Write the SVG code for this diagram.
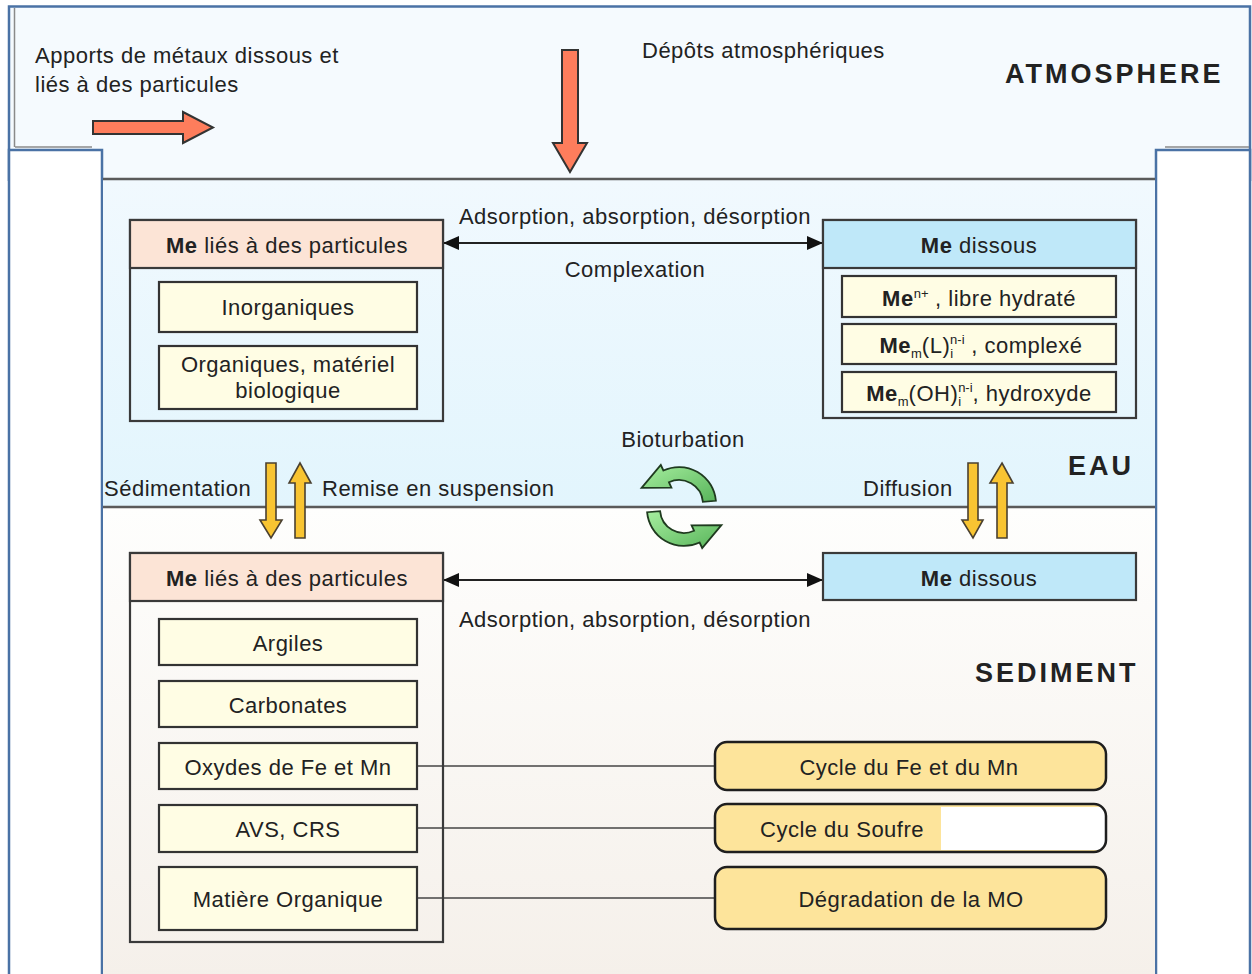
<svg xmlns="http://www.w3.org/2000/svg" width="1252" height="974" viewBox="0 0 1252 974">
<style>
text{font-family:"Liberation Sans",Arial,sans-serif;fill:#222;font-size:22px;letter-spacing:0.5px}
.b{font-weight:bold}
.zone{font-size:27px;font-weight:bold;letter-spacing:3px}
.sub{font-size:13px;letter-spacing:0}
.frame{fill:#fff;stroke:#4a72a5;stroke-width:2.5}
.sep{stroke:#5a5a5a;stroke-width:2.5}
.outer{fill:none;stroke:#3a3a3a;stroke-width:2.2}
.hp{fill:#fce4d6;stroke:#3a3a3a;stroke-width:2.2}
.hb{fill:#bfe8f9;stroke:#3a3a3a;stroke-width:2.2}
.inner{fill:#fffde4;stroke:#333;stroke-width:2.2}
.cyc{fill:#fde49b;stroke:#1e1e1e;stroke-width:2.5}
.red{fill:#fe7d5c;stroke:#333;stroke-width:2}
.yel{fill:#f8c432;stroke:#4a4030;stroke-width:1.6}
.grn{fill:url(#grn);stroke:#1f3a1f;stroke-width:1.8}
.conn{stroke:#444;stroke-width:1.6;fill:none}
.bi{stroke:#222;stroke-width:2;fill:none;marker-start:url(#ah);marker-end:url(#ah)}
</style>
<defs>
<linearGradient id="water" x1="0" y1="0" x2="0" y2="1"><stop offset="0" stop-color="#f1f9fe"/><stop offset="1" stop-color="#e2f5fd"/></linearGradient>
<linearGradient id="sed" x1="0" y1="0" x2="0" y2="1"><stop offset="0" stop-color="#fefefd"/><stop offset="1" stop-color="#f5f0ea"/></linearGradient>
<linearGradient id="grn" x1="0" y1="0" x2="1" y2="1"><stop offset="0" stop-color="#a6ee9f"/><stop offset="1" stop-color="#58b45a"/></linearGradient>
<marker id="ah" viewBox="0 0 16 14" refX="16" refY="7" markerWidth="16" markerHeight="14" markerUnits="userSpaceOnUse" orient="auto-start-reverse"><path d="M0,0 L16,7 L0,14 Z" fill="#111"/></marker>
<clipPath id="clipS"><rect x="715" y="804" width="391" height="48" rx="12"/></clipPath>
</defs>

<g id="background">
<rect x="9" y="6" width="1241" height="175" fill="#f5fafe"/>
<path d="M9,181 V6.5 H1250 V181" fill="none" stroke="#4a72a5" stroke-width="2.5"/>
<line x1="14.5" y1="8" x2="14.5" y2="147" stroke="#8a8a8a" stroke-width="1.5"/>
<line x1="15" y1="147" x2="92" y2="147" stroke="#8a8a8a" stroke-width="1.5"/>
<line x1="1165" y1="147" x2="1249" y2="147" stroke="#8a8a8a" stroke-width="1.5"/>
<rect class="frame" x="9" y="150" width="93" height="830"/>
<rect class="frame" x="1156" y="150" width="94" height="830"/>
<rect x="103" y="180" width="1052" height="327" fill="url(#water)"/>
<rect x="103" y="507" width="1052" height="470" fill="url(#sed)"/>
<line class="sep" x1="103" y1="179" x2="1155" y2="179"/>
<line class="sep" x1="103" y1="507" x2="1155" y2="507"/>
</g>

<g id="labels">
<text x="35" y="63">Apports de métaux dissous et</text>
<text x="35" y="92">liés à des particules</text>
<text x="642" y="58">Dépôts atmosphériques</text>
<text class="zone" x="1005" y="83">ATMOSPHERE</text>
<text class="zone" x="1068" y="475">EAU</text>
<text class="zone" x="975" y="682">SEDIMENT</text>
<text x="683" y="447" text-anchor="middle">Bioturbation</text>
<text x="104" y="496">Sédimentation</text>
<text x="322" y="496">Remise en suspension</text>
<text x="863" y="496">Diffusion</text>
</g>

<g id="connectors">
<line class="bi" x1="443" y1="243" x2="823" y2="243"/>
<text x="635" y="224" text-anchor="middle">Adsorption, absorption, désorption</text>
<text x="635" y="277" text-anchor="middle">Complexation</text>
<line class="bi" x1="443" y1="580" x2="823" y2="580"/>
<text x="635" y="627" text-anchor="middle">Adsorption, absorption, désorption</text>
<line class="conn" x1="417" y1="766" x2="715" y2="766"/>
<line class="conn" x1="417" y1="828" x2="715" y2="828"/>
<line class="conn" x1="417" y1="898" x2="715" y2="898"/>
<polygon class="red" points="93,121 183,121 183,112 213,127.5 183,143 183,134 93,134"/>
<polygon class="red" points="562,50 578,50 578,143 587,143 570,172 553,143 562,143"/>
<polygon class="yel" points="266,463 276,463 276,520 282,520 271,538 260,520 266,520"/>
<polygon class="yel" points="300,463 311,483 305,483 305,538 295,538 295,483 289,483"/>
<polygon class="yel" points="968,463 978,463 978,520 983,520 973,538 962,520 968,520"/>
<polygon class="yel" points="1002,463 1013,483 1007,483 1007,538 997,538 997,483 990,483"/>
<path class="grn" transform="translate(-1,-2)" d="M716.9,502.8 A37,37 0 0 0 664.4,472.5 L661.8,467 L642.6,489.8 L672.4,489.7 L669.9,484.2 A24,24 0 0 1 703.9,503.9 Z"/>
<path class="grn" transform="translate(4,3)" d="M643.1,509.2 A37,37 0 0 0 695.6,539.5 L698.2,545 L717.4,522.2 L687.6,522.3 L690.1,527.8 A24,24 0 0 1 656.1,508.1 Z"/>
</g>

<g id="eau-particules">
<rect class="outer" x="130" y="220" width="313" height="201"/>
<rect class="hp" x="130" y="220" width="313" height="48"/>
<text x="287" y="253" text-anchor="middle"><tspan class="b">Me</tspan> liés à des particules</text>
<rect class="inner" x="159" y="282" width="258" height="50"/>
<text x="288" y="315" text-anchor="middle">Inorganiques</text>
<rect class="inner" x="159" y="346" width="258" height="63"/>
<text x="288" y="372" text-anchor="middle">Organiques, matériel</text>
<text x="288" y="398" text-anchor="middle">biologique</text>
</g>

<g id="eau-dissous">
<rect class="outer" x="823" y="220" width="313" height="198"/>
<rect class="hb" x="823" y="220" width="313" height="48"/>
<text x="979" y="253" text-anchor="middle"><tspan class="b">Me</tspan> dissous</text>
<rect class="inner" x="842" y="276" width="274" height="41"/>
<text x="979" y="306" text-anchor="middle"><tspan class="b">Me</tspan><tspan class="sub" dy="-8">n+</tspan><tspan dy="8"> , libre hydraté</tspan></text>
<rect class="inner" x="842" y="324" width="274" height="40"/>
<text x="981" y="353" text-anchor="middle"><tspan class="b">Me</tspan><tspan class="sub" dy="5">m</tspan><tspan dy="-5">(L)</tspan><tspan class="sub" dy="5">i</tspan><tspan class="sub" dx="-3" dy="-14">n-i</tspan><tspan dy="9"> , complexé</tspan></text>
<rect class="inner" x="842" y="372" width="274" height="40"/>
<text x="979" y="401" text-anchor="middle"><tspan class="b">Me</tspan><tspan class="sub" dy="5">m</tspan><tspan dy="-5">(OH)</tspan><tspan class="sub" dy="5">i</tspan><tspan class="sub" dx="-3" dy="-14">n-i</tspan><tspan dy="9">, hydroxyde</tspan></text>
</g>

<g id="sed-particules">
<rect class="outer" x="130" y="553" width="313" height="389"/>
<rect class="hp" x="130" y="553" width="313" height="48"/>
<text x="287" y="586" text-anchor="middle"><tspan class="b">Me</tspan> liés à des particules</text>
<rect class="inner" x="159" y="619" width="258" height="46"/>
<text x="288" y="651" text-anchor="middle">Argiles</text>
<rect class="inner" x="159" y="681" width="258" height="46"/>
<text x="288" y="713" text-anchor="middle">Carbonates</text>
<rect class="inner" x="159" y="743" width="258" height="46"/>
<text x="288" y="775" text-anchor="middle">Oxydes de Fe et Mn</text>
<rect class="inner" x="159" y="805" width="258" height="47"/>
<text x="288" y="837" text-anchor="middle">AVS, CRS</text>
<rect class="inner" x="159" y="867" width="258" height="63"/>
<text x="288" y="907" text-anchor="middle">Matière Organique</text>
</g>

<g id="sed-dissous">
<rect class="hb" x="823" y="553" width="313" height="47"/>
<text x="979" y="586" text-anchor="middle"><tspan class="b">Me</tspan> dissous</text>
</g>

<g id="cycle-fe-mn">
<rect class="cyc" x="715" y="742" width="391" height="48" rx="12"/>
<text x="909" y="775" text-anchor="middle">Cycle du Fe et du Mn</text>
</g>

<g id="cycle-soufre">
<rect x="715" y="804" width="391" height="48" rx="12" fill="#fde49b"/>
<rect x="941" y="807" width="170" height="43" fill="#fff" clip-path="url(#clipS)"/>
<rect x="715" y="804" width="391" height="48" rx="12" fill="none" stroke="#1e1e1e" stroke-width="2.5"/>
<text x="760" y="837">Cycle du Soufre</text>
</g>

<g id="cycle-mo">
<rect class="cyc" x="715" y="867" width="391" height="62" rx="12"/>
<text x="911" y="907" text-anchor="middle">Dégradation de la MO</text>
</g>
</svg>
